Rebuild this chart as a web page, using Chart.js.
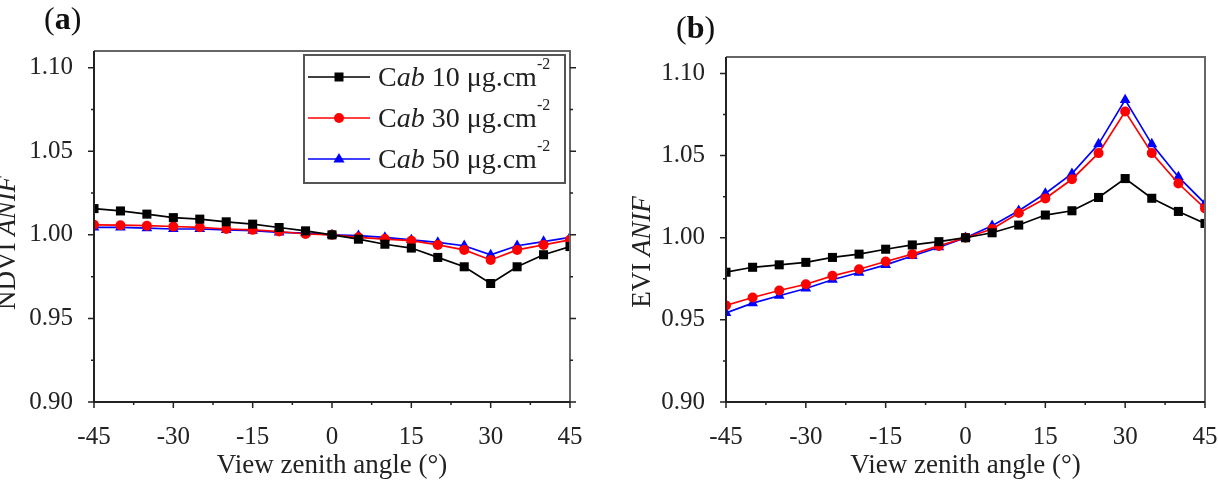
<!DOCTYPE html>
<html>
<head>
<meta charset="utf-8">
<script src="https://cdn.jsdelivr.net/npm/chart.js@4.4.1/dist/chart.umd.min.js"></script>
<style>
  html, body { margin: 0; padding: 0; background: #fff; overflow: hidden; }
  #wrap { position: relative; width: 1218px; height: 484px; }
  .panel { position: absolute; top: 0; width: 609px; height: 484px; }
  #panelA { left: 0; }
  #panelB { left: 609px; }
</style>
</head>
<body>
<div id="wrap">
  <div class="panel" id="panelA"><canvas id="chartA"></canvas></div>
  <div class="panel" id="panelB"><canvas id="chartB"></canvas></div>
</div>
<script>
// View zenith angles (deg)
const angles = [-45, -40, -35, -30, -25, -20, -15, -10, -5, 0, 5, 10, 15, 20, 25, 30, 35, 40, 45];

// NDVI ANIF, panel (a)
const ndviCab10 = [1.0157, 1.0143, 1.0124, 1.0103, 1.0094, 1.0078, 1.0064, 1.0044, 1.0024, 1.0000, 0.9974, 0.9944, 0.9921, 0.9865, 0.9809, 0.9709, 0.9809, 0.9881, 0.9930];
const ndviCab30 = [1.0060, 1.0058, 1.0055, 1.0050, 1.0045, 1.0035, 1.0030, 1.0020, 1.0005, 1.0000, 0.9985, 0.9975, 0.9965, 0.9940, 0.9910, 0.9850, 0.9910, 0.9940, 0.9970];
const ndviCab50 = [1.0045, 1.0045, 1.0040, 1.0035, 1.0035, 1.0030, 1.0025, 1.0015, 1.0010, 1.0000, 0.9995, 0.9985, 0.9970, 0.9955, 0.9935, 0.9880, 0.9935, 0.9960, 0.9985];

// EVI ANIF, panel (b)
const eviCab10 = [0.9790, 0.9820, 0.9835, 0.9850, 0.9880, 0.9900, 0.9930, 0.9956, 0.9976, 1.0000, 1.0030, 1.0077, 1.0138, 1.0164, 1.0245, 1.0360, 1.0240, 1.0160, 1.0087];
const eviCab30 = [0.9588, 0.9636, 0.9679, 0.9717, 0.9768, 0.9808, 0.9855, 0.9900, 0.9950, 1.0000, 1.0053, 1.0150, 1.0239, 1.0356, 1.0515, 1.0768, 1.0515, 1.0330, 1.0178];
const eviCab50 = [0.9542, 0.9602, 0.9647, 0.9691, 0.9744, 0.9788, 0.9835, 0.9889, 0.9942, 1.0000, 1.0073, 1.0164, 1.0269, 1.0390, 1.0570, 1.0839, 1.0570, 1.0370, 1.0208];

const xTicks = [-45, -30, -15, 0, 15, 30, 45];
const yTicks = [0.90, 0.95, 1.00, 1.05, 1.10];
const seriesNames = ['10', '30', '50'];
const seriesColors = ['#000000', '#ff0000', '#0000ff'];
const seriesMarkers = ['rect', 'circle', 'triangle'];

const SERIF = '"Liberation Serif", "Times New Roman", serif';

function makeDatasets(lists) {
    return lists.map((vals, i) => ({
        label: 'Cab ' + seriesNames[i] + ' μg.cm-2',
        data: angles.map((a, j) => ({ x: a, y: vals[j] })),
        borderColor: seriesColors[i],
        backgroundColor: seriesColors[i],
        borderWidth: 1.7,
        pointStyle: seriesMarkers[i],
        pointRadius: seriesMarkers[i] === 'circle' ? 5 : (seriesMarkers[i] === 'rect' ? 6.4 : 6.2),
        pointBorderWidth: 0,
        tension: 0,
        clip: 0
    }));
}

// draw markers the same way for the legend
function drawMarker(ctx, style, x, y, color) {
    ctx.save();
    ctx.fillStyle = color;
    ctx.beginPath();
    if (style === 'rect') {
        ctx.rect(x - 4.5, y - 4.5, 9, 9);
    } else if (style === 'circle') {
        ctx.arc(x, y, 5, 0, Math.PI * 2);
    } else {
        ctx.moveTo(x, y - 6);
        ctx.lineTo(x + 5.6, y + 3.6);
        ctx.lineTo(x - 5.6, y + 3.6);
        ctx.closePath();
    }
    ctx.fill();
    ctx.restore();
}

// draws runs of text with different font styles, left to right
function drawRuns(ctx, runs, x, y) {
    let cx = x;
    runs.forEach(r => {
        ctx.font = r.font;
        ctx.fillText(r.text, cx, y + (r.dy || 0));
        cx += ctx.measureText(r.text).width;
    });
    return cx;
}

function runsWidth(ctx, runs) {
    let w = 0;
    runs.forEach(r => { ctx.font = r.font; w += ctx.measureText(r.text).width; });
    return w;
}

const framePlugin = {
    id: 'frame',
    afterDraw(chart, args, opts) {
        const ctx = chart.ctx;
        const a = chart.chartArea;
        const xs = chart.scales.x, ys = chart.scales.y;
        ctx.save();

        // frame
        ctx.lineWidth = 2;
        ctx.strokeStyle = '#666';
        ctx.beginPath();
        ctx.moveTo(a.left, a.top); ctx.lineTo(a.right, a.top); ctx.lineTo(a.right, a.bottom);
        ctx.stroke();
        ctx.strokeStyle = '#222';
        ctx.beginPath();
        ctx.moveTo(a.left, a.top); ctx.lineTo(a.left, a.bottom); ctx.lineTo(a.right, a.bottom);
        ctx.stroke();

        // ticks
        ctx.lineWidth = 1.5;
        ctx.strokeStyle = '#222';
        ctx.beginPath();
        for (let v = -45; v <= 45; v += 7.5) {
            const px = xs.getPixelForValue(v);
            const len = (v % 15 === 0) ? 6 : 3;
            ctx.moveTo(px, a.bottom); ctx.lineTo(px, a.bottom + len);
        }
        for (let k = 0; k <= 8; k++) {
            const v = 0.90 + k * 0.025;
            const py = ys.getPixelForValue(v);
            const len = (k % 2 === 0) ? 6 : 3;
            ctx.moveTo(a.left, py); ctx.lineTo(a.left - len, py);
            if (opts.rightTicks) { ctx.moveTo(a.right, py); ctx.lineTo(a.right + len, py); }
        }
        ctx.stroke();

        ctx.fillStyle = '#222';
        // x title
        ctx.font = '27px ' + SERIF;
        ctx.textAlign = 'center';
        ctx.textBaseline = 'middle';
        ctx.fillText('View zenith angle (°)', (a.left + a.right) / 2, 466);

        // y title
        ctx.textAlign = 'left';
        ctx.textBaseline = 'alphabetic';
        const yRuns = [
            { text: opts.yName + ' ', font: '27px ' + SERIF },
            { text: 'ANIF', font: 'italic 27px ' + SERIF }
        ];
        ctx.save();
        ctx.translate(opts.yTitleX, opts.yTitleY);
        ctx.rotate(-Math.PI / 2);
        drawRuns(ctx, yRuns, -runsWidth(ctx, yRuns) / 2, 0);
        ctx.restore();

        // panel letter
        const pRuns = [
            { text: '(', font: '32px ' + SERIF },
            { text: opts.letter, font: 'bold 32px ' + SERIF },
            { text: ')', font: '32px ' + SERIF }
        ];
        ctx.fillStyle = '#111';
        drawRuns(ctx, pRuns, opts.letterX, opts.letterY);

        // legend
        if (opts.legend) {
            const L = opts.legend;
            ctx.fillStyle = '#fff';
            ctx.fillRect(L.x, L.y, L.w, L.h);
            ctx.lineWidth = 2;
            ctx.strokeStyle = '#555';
            ctx.strokeRect(L.x, L.y, L.w, L.h);
            seriesNames.forEach((n, i) => {
                const cy = L.rows[i];
                ctx.strokeStyle = seriesColors[i];
                ctx.lineWidth = 1.7;
                ctx.beginPath();
                ctx.moveTo(L.x + 4, cy); ctx.lineTo(L.x + 66, cy);
                ctx.stroke();
                drawMarker(ctx, seriesMarkers[i], L.x + 35, cy, seriesColors[i]);
                ctx.fillStyle = '#222';
                drawRuns(ctx, [
                    { text: 'C', font: '28px ' + SERIF },
                    { text: 'ab', font: 'italic 28px ' + SERIF },
                    { text: ' ' + n + ' μg.cm', font: '28px ' + SERIF },
                    { text: '-2', font: '16px ' + SERIF, dy: -17 }
                ], L.x + 74, cy + 9);
            });
        }
        ctx.restore();
    }
};

function makeChart(id, lists, pad, yAxisWidth, opts) {
    return new Chart(document.getElementById(id), {
        type: 'line',
        data: { datasets: makeDatasets(lists) },
        options: {
            responsive: true,
            maintainAspectRatio: false,
            animation: false,
            events: [],
            layout: { padding: pad, autoPadding: false },
            plugins: { legend: { display: false }, tooltip: { enabled: false }, frame: opts },
            scales: {
                x: {
                    type: 'linear',
                    min: -45, max: 45,
                    afterBuildTicks: s => { s.ticks = xTicks.map(v => ({ value: v })); },
                    afterFit: s => { s.height = 82; s.paddingLeft = 0; s.paddingRight = 0; },
                    grid: { display: false },
                    border: { display: false },
                    ticks: { color: '#222', padding: 12, font: { family: SERIF, size: 25 }, maxRotation: 0 }
                },
                y: {
                    min: 0.90, max: 1.11,
                    afterBuildTicks: s => { s.ticks = yTicks.map(v => ({ value: v })); },
                    afterFit: s => { s.width = yAxisWidth; s.paddingTop = 0; s.paddingBottom = 0; },
                    grid: { display: false },
                    border: { display: false },
                    ticks: { color: '#222', padding: 13, font: { family: SERIF, size: 25 },
                        callback: v => v.toFixed(2) }
                }
            }
        },
        plugins: [framePlugin]
    });
}

makeChart('chartA', [ndviCab10, ndviCab30, ndviCab50],
    { left: 0, right: 39, top: 51, bottom: 0 }, 94,
    { yName: 'NDVI', yTitleX: 15, yTitleY: 243, letter: 'a', letterX: 44, letterY: 29, rightTicks: true,
      legend: { x: 304, y: 55, w: 261, h: 128, rows: [77, 118, 159] } });

makeChart('chartB', [eviCab10, eviCab30, eviCab50],
    { left: 0, right: 13, top: 57, bottom: 0 }, 117,
    { yName: 'EVI', yTitleX: 41, yTitleY: 252, letter: 'b', letterX: 67, letterY: 38, rightTicks: false });
</script>
</body>
</html>
